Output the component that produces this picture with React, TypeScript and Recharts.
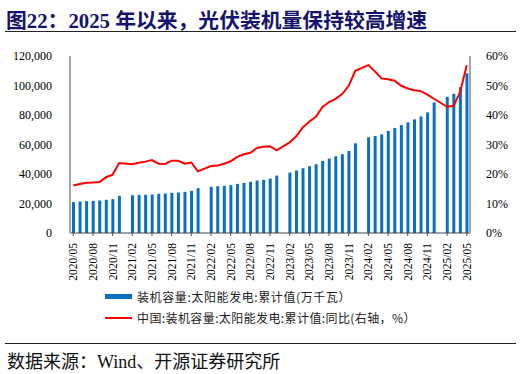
import React from "react"
import { ComposedChart, Bar, Line, XAxis, YAxis } from "recharts"

const months = [
  "2020/05", "2020/06", "2020/07", "2020/08", "2020/09", "2020/10", "2020/11", "2020/12",
  "2021/01", "2021/02", "2021/03", "2021/04", "2021/05", "2021/06", "2021/07", "2021/08", "2021/09", "2021/10", "2021/11", "2021/12",
  "2022/01", "2022/02", "2022/03", "2022/04", "2022/05", "2022/06", "2022/07", "2022/08", "2022/09", "2022/10", "2022/11", "2022/12",
  "2023/01", "2023/02", "2023/03", "2023/04", "2023/05", "2023/06", "2023/07", "2023/08", "2023/09", "2023/10", "2023/11", "2023/12",
  "2024/01", "2024/02", "2024/03", "2024/04", "2024/05", "2024/06", "2024/07", "2024/08", "2024/09", "2024/10", "2024/11", "2024/12",
  "2025/01", "2025/02", "2025/03", "2025/04", "2025/05",
]

// 装机容量:太阳能发电:累计值(万千瓦)，1月无数据
const capacity: (number | null)[] = [
  20950, 21360, 21600, 21830, 22050, 22500, 22970, 25200,
  null, 25650, 25880, 25950, 26100, 26560, 26780, 27230, 27450, 27900, 28580, 30400,
  null, 31300, 31740, 31960, 32410, 33310, 33990, 34660, 35550, 36000, 36900, 38920,
  null, 40960, 42340, 43920, 45270, 46620, 48870, 50430, 52000, 53380, 55620, 60820,
  null, 64870, 65770, 66890, 69140, 71160, 73180, 75000, 77030, 79060, 81760, 88520,
  null, 92350, 94370, 98870, 108300,
]

// 同比(%)
const yoy: (number | null)[] = [
  16.1, 16.6, 17.0, 17.1, 17.3, 18.9, 19.8, 23.7,
  null, 23.3, 23.8, 24.2, 24.7, 23.5, 23.4, 24.5, 24.5, 23.5, 23.9, 20.9,
  null, 22.7, 22.9, 23.5, 24.3, 25.8, 26.7, 27.2, 28.8, 29.2, 29.4, 28.0,
  null, 30.7, 32.8, 35.8, 37.8, 39.4, 42.7, 44.4, 45.5, 47.1, 49.9, 55.0,
  null, 56.9, 54.8, 52.4, 52.1, 51.6, 49.9, 49.0, 48.4, 48.1, 46.9, 45.5,
  null, 42.8, 43.1, 47.8, 56.9,
]

const leftTicks = [0, 20000, 40000, 60000, 80000, 100000, 120000]
const rightTicks = [0, 10, 20, 30, 40, 50, 60]

const data = months.map((m, i) => ({ month: m, capacity: capacity[i], yoy: yoy[i] }))

const serif = '"Liberation Serif", "Noto Sans CJK SC", serif'
const cjk = '"Noto Sans CJK SC", "Liberation Serif", sans-serif'

function MonthTick(props: any) {
  const { x, y, payload } = props
  return (
    <text
      x={0}
      y={0}
      transform={`translate(${x + 4},${y + 5}) rotate(-90)`}
      textAnchor="end"
      fontSize={11.5}
      fontFamily={serif}
      fill="#000"
    >
      {payload.value}
    </text>
  )
}

export default function App() {
  return (
    <div style={{ position: "relative", width: 521, height: 374, background: "#fff", overflow: "hidden" }}>
      <style>{`body{margin:0}`}</style>
      <div
        style={{
          position: "absolute",
          left: 6,
          top: 4,
          fontSize: 20.8,
          fontWeight: "bold",
          fontFamily: serif,
          color: "#14146e",
          whiteSpace: "nowrap",
        }}
      >
        图22：2025 年以来，光伏装机量保持较高增速
      </div>
      <div style={{ position: "absolute", left: 5, top: 31, width: 511, height: 1, background: "#222" }} />

      <div style={{ position: "absolute", left: 0, top: 0 }}>
        <ComposedChart width={521} height={300} data={data} margin={{ top: 56, right: 8, bottom: 7, left: 8 }} barSize={3}>
          <XAxis
            dataKey="month"
            interval={2}
            height={60}
            tick={<MonthTick />}
            tickLine={{ stroke: "#555" }}
            tickSize={3}
            axisLine={{ stroke: "#444" }}
          />
          <YAxis
            yAxisId="left"
            width={62}
            domain={[0, 120000]}
            ticks={leftTicks}
            tickFormatter={(v: number) => v.toLocaleString("en-US")}
            tick={{ fontSize: 12, fontFamily: serif, fill: "#000" }}
            tickLine={false}
            tickMargin={12}
            axisLine={{ stroke: "#a6a6a6", strokeWidth: 2 }}
          />
          <YAxis
            yAxisId="right"
            orientation="right"
            width={43}
            domain={[0, 60]}
            ticks={rightTicks}
            tickFormatter={(v: number) => `${v}%`}
            tick={{ fontSize: 12, fontFamily: serif, fill: "#000" }}
            tickLine={false}
            tickMargin={10}
            axisLine={{ stroke: "#a6a6a6", strokeWidth: 2 }}
          />
          <Bar yAxisId="left" dataKey="capacity" fill="#0a6fc2" isAnimationActive={false} />
          <Line
            yAxisId="right"
            dataKey="yoy"
            stroke="#ff0000"
            strokeWidth={2}
            dot={false}
            connectNulls
            isAnimationActive={false}
          />
        </ComposedChart>
      </div>

      <div style={{ position: "absolute", left: 105, top: 294, width: 27, height: 5, background: "#0a6fc2" }} />
      <div
        style={{
          position: "absolute",
          left: 137,
          top: 288,
          fontSize: 12,
          letterSpacing: 0.6,
          fontFamily: cjk,
          color: "#222",
          whiteSpace: "nowrap",
        }}
      >
        装机容量:太阳能发电:累计值(万千瓦）
      </div>
      <div style={{ position: "absolute", left: 105, top: 317, width: 27, height: 2, background: "#ff0000" }} />
      <div
        style={{
          position: "absolute",
          left: 137,
          top: 309,
          fontSize: 12,
          letterSpacing: 0.4,
          fontFamily: cjk,
          color: "#222",
          whiteSpace: "nowrap",
        }}
      >
        中国:装机容量:太阳能发电:累计值:同比(右轴，%）
      </div>

      <div style={{ position: "absolute", left: 5, top: 343, width: 511, height: 1, background: "#222" }} />
      <div
        style={{
          position: "absolute",
          left: 7,
          top: 347,
          fontSize: 18,
          fontFamily: serif,
          color: "#111",
          whiteSpace: "nowrap",
        }}
      >
        数据来源：Wind、开源证券研究所
      </div>
    </div>
  )
}
